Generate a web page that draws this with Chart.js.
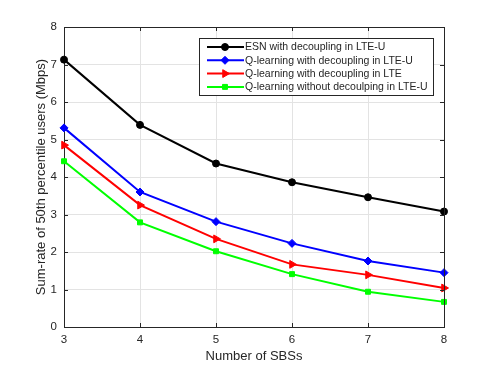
<!DOCTYPE html>
<html>
<head>
<meta charset="utf-8">
<script src="https://cdn.jsdelivr.net/npm/chart.js@4"></script>
<style>
  html, body { margin: 0; padding: 0; background: #ffffff; }
  canvas { display: block; }
</style>
</head>
<body>
<canvas id="grafica" width="491" height="368"></canvas>
<script>
// numero de SBSs en el eje x
const sbs = [3, 4, 5, 6, 7, 8];

// sum-rate (Mbps)
const esnDecLteU = [7.13, 5.39, 4.36, 3.86, 3.46, 3.08];
const qlDecLteU  = [5.31, 3.60, 2.81, 2.23, 1.76, 1.45];
const qlDecLte   = [4.85, 3.25, 2.35, 1.67, 1.39, 1.04];
const qlNoDecLteU = [4.42, 2.79, 2.02, 1.41, 0.94, 0.67];

const etiquetas = [
    "ESN with decoupling in LTE-U",
    "Q-learning with decoupling in LTE-U",
    "Q-learning with decoupling in LTE",
    "Q-learning without decoulping in LTE-U"
];

const yTicks = [0, 1, 2, 3, 4, 5, 6, 7, 8];

const FUENTE = "'Liberation Sans', Arial, Helvetica, sans-serif";
const GRIS = "#262626";

function puntos(valores) {
    return sbs.map((x, i) => ({ x: x, y: valores[i] }));
}

function serie(label, valores, color, estilo, radio, rotacion) {
    return {
        label: label,
        data: puntos(valores),
        borderColor: color,
        backgroundColor: color,
        borderWidth: 2,
        pointStyle: estilo,
        pointRadius: radio,
        pointRotation: rotacion || 0,
        pointBackgroundColor: color,
        pointBorderColor: color,
        pointBorderWidth: 1,
        tension: 0,
        clip: false
    };
}

// ejes tipo MATLAB: caja completa y marcas hacia dentro
const cajaEjes = {
    id: "cajaEjes",
    afterDraw(chart) {
        const { ctx, chartArea: a, scales } = chart;
        ctx.save();
        ctx.strokeStyle = GRIS;
        ctx.lineWidth = 1;
        ctx.beginPath();
        ctx.moveTo(a.left, a.top + 0.5);
        ctx.lineTo(a.right + 0.5, a.top + 0.5);
        ctx.lineTo(a.right + 0.5, a.bottom);
        ctx.stroke();
        ctx.beginPath();
        scales.x.ticks.forEach(t => {
            const px = Math.round(scales.x.getPixelForValue(t.value)) + 0.5;
            ctx.moveTo(px, a.bottom);
            ctx.lineTo(px, a.bottom - 4);
            ctx.moveTo(px, a.top);
            ctx.lineTo(px, a.top + 4);
        });
        scales.y.ticks.forEach(t => {
            const py = Math.round(scales.y.getPixelForValue(t.value)) + 0.5;
            ctx.moveTo(a.left, py);
            ctx.lineTo(a.left + 4, py);
            ctx.moveTo(a.right, py);
            ctx.lineTo(a.right - 4, py);
        });
        ctx.stroke();
        ctx.restore();
    }
};

// leyenda dentro del area, con recuadro
const leyendaCaja = {
    id: "leyendaCaja",
    afterDatasetsDraw(chart) {
        const { ctx } = chart;
        const x0 = 199, y0 = 38, ancho = 234, alto = 57;
        const fila = 13.3;
        ctx.save();
        ctx.fillStyle = "#ffffff";
        ctx.fillRect(x0, y0, ancho, alto);
        ctx.strokeStyle = GRIS;
        ctx.lineWidth = 1;
        ctx.strokeRect(x0 + 0.5, y0 + 0.5, ancho, alto);
        ctx.font = "10.5px " + FUENTE;
        ctx.textBaseline = "middle";
        chart.data.datasets.forEach((ds, i) => {
            const yy = y0 + 9 + i * fila;
            ctx.strokeStyle = ds.borderColor;
            ctx.lineWidth = 2;
            ctx.beginPath();
            ctx.moveTo(x0 + 8, yy);
            ctx.lineTo(x0 + 45, yy);
            ctx.stroke();
            ctx.fillStyle = ds.borderColor;
            ctx.lineWidth = 1;
            Chart.helpers.drawPoint(ctx, {
                pointStyle: ds.pointStyle,
                radius: ds.pointRadius,
                rotation: ds.pointRotation,
                borderWidth: 1
            }, x0 + 26, yy);
            ctx.fillStyle = GRIS;
            ctx.fillText(ds.label, x0 + 46, yy + 0.5);
        });
        ctx.restore();
    }
};

const lienzo = document.getElementById("grafica");

new Chart(lienzo, {
    type: "line",
    data: {
        datasets: [
            serie(etiquetas[0], esnDecLteU, "#000000", "circle", 3.5),
            serie(etiquetas[1], qlDecLteU, "#0000ff", "rectRot", 4),
            serie(etiquetas[2], qlDecLte, "#ff0000", "triangle", 4.5, 90),
            serie(etiquetas[3], qlNoDecLteU, "#00ff00", "rect", 3.5)
        ]
    },
    options: {
        responsive: false,
        devicePixelRatio: 1,
        animation: false,
        layout: { padding: { left: 0, top: 27, right: 47, bottom: 0 } },
        plugins: {
            legend: { display: false },
            tooltip: { enabled: false }
        },
        scales: {
            x: {
                type: "linear",
                min: 3,
                max: 8,
                afterFit: s => { s.height = 41; },
                ticks: {
                    stepSize: 1,
                    padding: 6,
                    color: GRIS,
                    font: { family: FUENTE, size: 11.5 }
                },
                grid: { color: "#e3e3e3", lineWidth: 1, drawTicks: false },
                border: { display: true, color: GRIS, width: 1 },
                title: {
                    display: true,
                    text: "Number of SBSs",
                    color: GRIS,
                    font: { family: FUENTE, size: 13 },
                    padding: { top: 0, bottom: 4 }
                }
            },
            y: {
                min: 0,
                max: 8,
                afterFit: s => { s.width = 64; },
                afterBuildTicks: s => { s.ticks = yTicks.map(v => ({ value: v })); },
                ticks: {
                    padding: 7,
                    color: GRIS,
                    font: { family: FUENTE, size: 11.5 }
                },
                grid: { color: "#e3e3e3", lineWidth: 1, drawTicks: false },
                border: { display: true, color: GRIS, width: 1 },
                title: {
                    display: true,
                    text: "Sum-rate of 50th percentile users (Mbps)",
                    color: GRIS,
                    font: { family: FUENTE, size: 13 },
                    padding: { top: 34, bottom: 0 }
                }
            }
        }
    },
    plugins: [cajaEjes, leyendaCaja]
});
</script>
</body>
</html>
